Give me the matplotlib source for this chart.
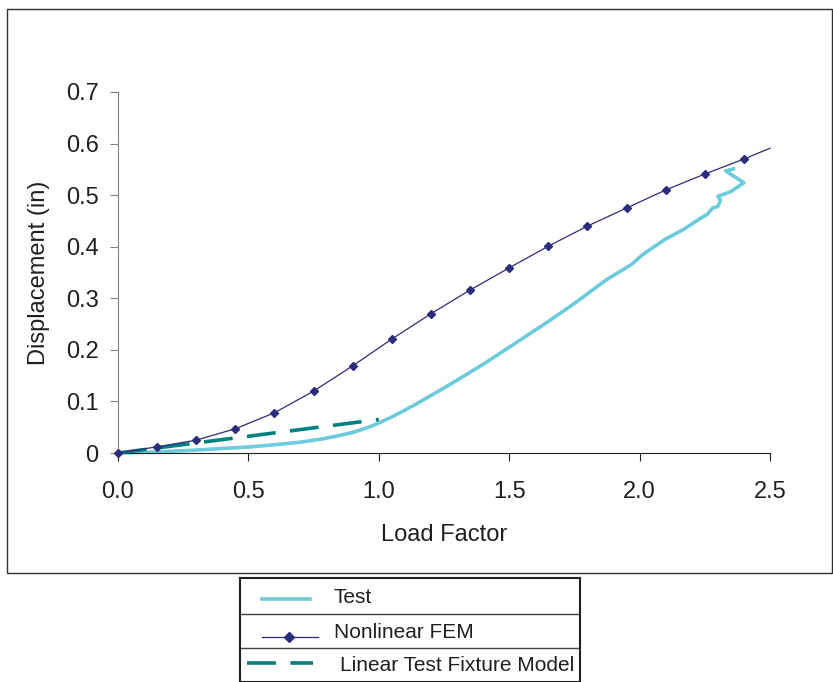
import numpy as np
import matplotlib.pyplot as plt
from matplotlib.patches import Rectangle

plt.rcParams['font.family'] = ['Liberation Sans', 'DejaVu Sans']

# Nonlinear FEM (markers every 0.15)
fem_x = [0.0, 0.15, 0.3, 0.45, 0.6, 0.75, 0.9, 1.05, 1.2, 1.35, 1.5, 1.65,
         1.8, 1.95, 2.1, 2.25, 2.4]
fem_y = [0.0, 0.012, 0.025, 0.047, 0.078, 0.12, 0.169, 0.221, 0.27, 0.316,
         0.359, 0.401, 0.44, 0.475, 0.51, 0.541, 0.57]
fem_end_x = [2.4, 2.5]
fem_end_y = [0.57, 0.591]

# Test
test_x = [0.0, 0.15, 0.31, 0.51, 0.6, 0.7, 0.78, 0.85, 0.9, 0.95, 1.0, 1.05,
          1.1, 1.15, 1.27, 1.4, 1.5, 1.65, 1.75, 1.87, 1.97, 2.01, 2.05, 2.10,
          2.13, 2.17, 2.23, 2.26, 2.28, 2.30, 2.31, 2.30, 2.33, 2.35, 2.40,
          2.33, 2.36]
test_y = [0.0, 0.002, 0.006, 0.012, 0.016, 0.021, 0.027, 0.034, 0.040, 0.048,
          0.058, 0.07, 0.083, 0.097, 0.132, 0.172, 0.205, 0.255, 0.29, 0.335,
          0.366, 0.384, 0.398, 0.415, 0.423, 0.434, 0.454, 0.463, 0.475, 0.478,
          0.49, 0.498, 0.503, 0.507, 0.524, 0.547, 0.551]

# Linear Test Fixture Model
lin_x = [0.0, 1.0]
lin_y = [0.0, 0.065]

c_test = '#6ccbdc'
c_fem = '#2b2c7c'
c_lin = '#00807f'

fig = plt.figure(figsize=(8.33, 6.82), dpi=100)
W, H = 833, 682

# outer frame
fig.patches.append(Rectangle((7 / W, 1 - 573 / H), (832 - 7) / W, (573 - 9) / H,
                             transform=fig.transFigure, fill=False,
                             edgecolor='#303030', linewidth=1.0))

ax = fig.add_axes([118 / W, 1 - 453 / H, (770 - 118) / W, (453 - 92) / H])
ax.plot(test_x, test_y, color=c_test, lw=2.6, clip_on=False, zorder=2)
ax.plot(lin_x, lin_y, color=c_lin, lw=2.6, dashes=(8, 4), clip_on=False, zorder=3)
ax.plot(fem_x, fem_y, color=c_fem, lw=0.9, marker='D', markersize=4.5,
        clip_on=False, zorder=4)
ax.plot(fem_end_x, fem_end_y, color=c_fem, lw=0.9, clip_on=False, zorder=4)

ax.set_xlim(0, 2.5)
ax.set_ylim(0, 0.7)
ax.set_xticks(np.arange(0, 2.51, 0.5))
ax.set_xticklabels(['0.0', '0.5', '1.0', '1.5', '2.0', '2.5'])
ax.set_yticks(np.arange(0, 0.71, 0.1))
ax.set_yticklabels(['0', '0.1', '0.2', '0.3', '0.4', '0.5', '0.6', '0.7'])
for s in ['top', 'right']:
    ax.spines[s].set_visible(False)
ax.spines['left'].set_color('#808080')
ax.spines['bottom'].set_color('#202020')
ax.tick_params(axis='both', direction='out', length=6, labelsize=17, colors='#202020')
ax.tick_params(axis='y', color='#808080', pad=8)
ax.tick_params(axis='x', pad=14)
ax.set_xlabel('Load Factor', fontsize=17, labelpad=15, color='#202020')
ax.set_ylabel('Displacement (in)', fontsize=17, labelpad=11, color='#202020')

# legend table below
lg = fig.add_axes([240 / W, 0, (580 - 240) / W, (682 - 578) / H])
lg.set_xlim(240, 580)
lg.set_ylim(682, 578)
lg.set_xticks([])
lg.set_yticks([])
for s in lg.spines.values():
    s.set_color('#202020')
    s.set_linewidth(1.5)
lg.axhline(614, color='#404040', lw=1)
lg.axhline(648, color='#404040', lw=1)
lg.plot([262, 310], [599, 599], color=c_test, lw=2.6)
lg.text(333, 598, 'Test', fontsize=15, va='center', color='#202020')
lg.plot([262, 318], [637, 637], color=c_fem, lw=0.9)
lg.plot([289], [637], color=c_fem, marker='D', markersize=5)
lg.text(334, 633, 'Nonlinear FEM', fontsize=15, va='center', color='#202020')
lg.plot([247, 313], [663, 663], color=c_lin, lw=2.6, dashes=(8, 4))
lg.text(340, 666, 'Linear Test Fixture Model', fontsize=15, va='center', color='#202020')

fig.savefig('out.png', dpi=100, facecolor='white')
